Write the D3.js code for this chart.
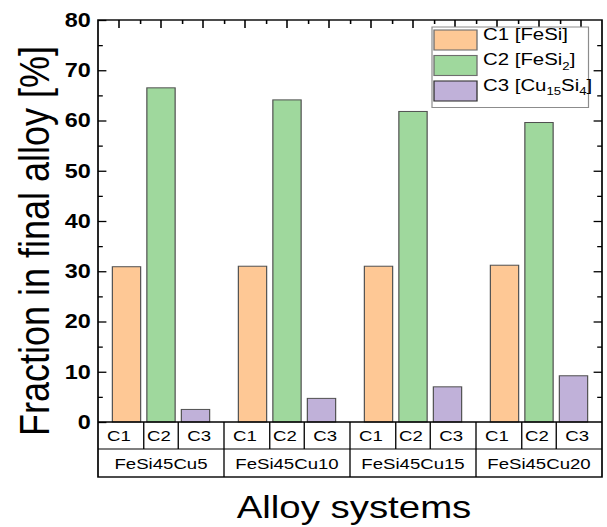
<!DOCTYPE html>
<html>
<head>
<meta charset="utf-8">
<script src="https://cdn.jsdelivr.net/npm/d3@7"></script>
<style>
  body { margin: 0; background: #fff; }
  svg { display: block; font-family: "Liberation Sans", Arial, sans-serif; }
</style>
</head>
<body>
<svg id="chart" width="607" height="527"></svg>
<script>
// values
const groups = ["FeSi45Cu5", "FeSi45Cu10", "FeSi45Cu15", "FeSi45Cu20"];
const comps = ["C1", "C2", "C3"];
const c1Vals = [30.9, 31.0, 31.0, 31.2];
const c2Vals = [66.5, 64.1, 61.8, 59.6];
const c3Vals = [2.5, 4.7, 7.0, 9.2];
const yTicks = [0, 10, 20, 30, 40, 50, 60, 70, 80];
const yMinor = [5, 15, 25, 35, 45, 55, 65, 75];
const legendLabels = [
  [["C1 [FeSi]", false]],
  [["C2 [FeSi", false], ["2", true], ["]", false]],
  [["C3 [Cu", false], ["15", true], ["Si", false], ["4", true], ["]", false]]
];
const colors = ["#fec895", "#9fd89d", "#c0b1d9"];

const series = [c1Vals, c2Vals, c3Vals];
const rows = [];
groups.forEach((g, gi) => comps.forEach((c, ci) => rows.push({ group: g, comp: c, value: series[ci][gi] })));

// the picture is stretched sideways: draw in a narrower space, scale x
const sx = 1.2;
const plotL = 98 / sx, plotR = 602 / sx;
const plotT = 20, base = 422, row1 = 449, row2 = 477;

const svg = d3.select("#chart");
const root = svg.append("g").attr("transform", `scale(${sx},1)`);

const y = d3.scaleLinear().domain([0, 80]).range([base, plotT]);
const x0 = d3.scaleBand().domain(groups).range([plotL, plotR]);
const gw = x0.bandwidth();
const x1 = d3.scaleBand().domain(comps).range([gw * 0.114, gw * 0.886]).paddingInner(0.18);
const slots = rows.map(d => d.group + "-" + d.comp);
const xs = d3.scaleBand().domain(slots).range([plotL, plotR]);

// bars
root.append("g").selectAll("rect")
  .data(rows)
  .join("rect")
    .attr("x", d => x0(d.group) + x1(d.comp))
    .attr("y", d => y(d.value))
    .attr("width", x1.bandwidth())
    .attr("height", d => base - y(d.value))
    .attr("fill", d => colors[comps.indexOf(d.comp)])
    .attr("stroke", "#505050")
    .attr("stroke-width", 1);

// left axis with labels, ticks inward
const yAxisL = root.append("g")
  .attr("transform", `translate(${plotL},0)`)
  .call(d3.axisLeft(y).tickValues(yTicks).tickSize(-7).tickPadding(6).tickSizeOuter(0));
yAxisL.select(".domain").remove();
yAxisL.selectAll("line").attr("stroke-width", 1.3);
yAxisL.selectAll("text")
  .attr("font-family", "'Liberation Sans', Arial, sans-serif")
  .attr("font-size", 19.5).attr("font-weight", "bold").attr("fill", "#000");
root.append("g")
  .attr("transform", `translate(${plotL},0)`)
  .call(d3.axisRight(y).tickValues(yMinor).tickSize(4).tickFormat(""))
  .call(g => g.select(".domain").remove())
  .selectAll("line").attr("stroke-width", 1.3);

// right axis, ticks inward
root.append("g")
  .attr("transform", `translate(${plotR},0)`)
  .call(d3.axisLeft(y).tickValues(yTicks.slice(1, -1)).tickSize(7).tickFormat(""))
  .call(g => g.select(".domain").remove())
  .selectAll("line").attr("stroke-width", 1.3);
root.append("g")
  .attr("transform", `translate(${plotR},0)`)
  .call(d3.axisLeft(y).tickValues(yMinor).tickSize(4).tickFormat(""))
  .call(g => g.select(".domain").remove())
  .selectAll("line").attr("stroke-width", 1.3);

// top axis: long ticks at slot centres, short ticks at slot edges
root.append("g")
  .attr("transform", `translate(0,${plotT})`)
  .call(d3.axisBottom(xs).tickSize(8).tickFormat(""))
  .call(g => g.select(".domain").remove())
  .selectAll("line").attr("stroke-width", 1.3);
const slotEdge = d3.scaleLinear().domain([0, slots.length]).range([plotL, plotR]);
root.append("g")
  .attr("transform", `translate(0,${plotT})`)
  .call(d3.axisBottom(slotEdge).tickValues(d3.range(1, slots.length)).tickSize(4).tickFormat(""))
  .call(g => g.select(".domain").remove())
  .selectAll("line").attr("stroke-width", 1.3);

// frame of plot and table
const frame = root.append("g").attr("stroke", "#000").attr("fill", "none");
frame.append("rect")
  .attr("x", plotL).attr("y", plotT).attr("width", plotR - plotL).attr("height", row2 - plotT)
  .attr("stroke-width", 1.4);
frame.append("line").attr("x1", plotL).attr("x2", plotR).attr("y1", base).attr("y2", base).attr("stroke-width", 1.4);
frame.append("line").attr("x1", plotL).attr("x2", plotR).attr("y1", row1).attr("y2", row1).attr("stroke-width", 1.1);

// table: group separators, component separators, labels
groups.forEach((g, gi) => {
  const gx = x0(g);
  if (gi > 0) {
    frame.append("line").attr("x1", gx).attr("x2", gx).attr("y1", base).attr("y2", row2).attr("stroke-width", 1.1);
  }
  const edges = [gx];
  comps.slice(1).forEach((c, i) => {
    const prevEnd = gx + x1(comps[i]) + x1.bandwidth();
    const ex = (prevEnd + gx + x1(c)) / 2;
    edges.push(ex);
    frame.append("line").attr("x1", ex).attr("x2", ex).attr("y1", base).attr("y2", row1).attr("stroke-width", 1.1);
  });
  edges.push(gx + gw);
  comps.forEach((c, ci) => {
    root.append("text")
      .attr("x", (edges[ci] + edges[ci + 1]) / 2 - 2 / sx)
      .attr("y", (base + row1) / 2)
      .attr("dy", "0.36em")
      .attr("text-anchor", "middle")
      .attr("font-size", 15.5)
      .text(c);
  });
  root.append("text")
    .attr("x", gx + gw / 2)
    .attr("y", (row1 + row2) / 2)
    .attr("dy", "0.36em")
    .attr("text-anchor", "middle")
    .attr("font-size", 15.5)
    .text(g);
});

// axis titles
root.append("text")
  .attr("transform", `translate(${33 / sx},${(plotT + base) / 2 + 20}) rotate(-90)`)
  .attr("text-anchor", "middle")
  .attr("dy", "0.36em")
  .attr("font-size", 36)
  .text("Fraction in final alloy [%]");
root.append("text")
  .attr("x", (plotL + plotR) / 2 + 4 / sx)
  .attr("y", 518)
  .attr("text-anchor", "middle")
  .attr("font-size", 32)
  .text("Alloy systems");

// legend
const legend = root.append("g").attr("transform", `translate(${432 / sx},27)`);
legend.append("rect")
  .attr("width", 156.5 / sx).attr("height", 80.5)
  .attr("fill", "#fff").attr("stroke", "#8c8c8c").attr("stroke-width", 1);
legendLabels.forEach((parts, i) => {
  const ly = 13 + i * 25.5;
  legend.append("rect")
    .attr("x", 2 / sx).attr("y", ly - 10)
    .attr("width", 43 / sx).attr("height", 20)
    .attr("fill", colors[i])
    .attr("stroke", i === 2 ? "#333" : "#6e6e6e").attr("stroke-width", 1.1);
  const t = legend.append("text")
    .attr("x", 51 / sx).attr("y", ly).attr("dy", "0.36em")
    .attr("font-size", 17);
  let shifted = 0;
  parts.forEach(([s, sub]) => {
    const want = sub ? 4.5 : 0;
    t.append("tspan")
      .attr("dy", want - shifted)
      .attr("font-size", sub ? 11 : 17)
      .text(s);
    shifted = want;
  });
});
</script>
</body>
</html>
